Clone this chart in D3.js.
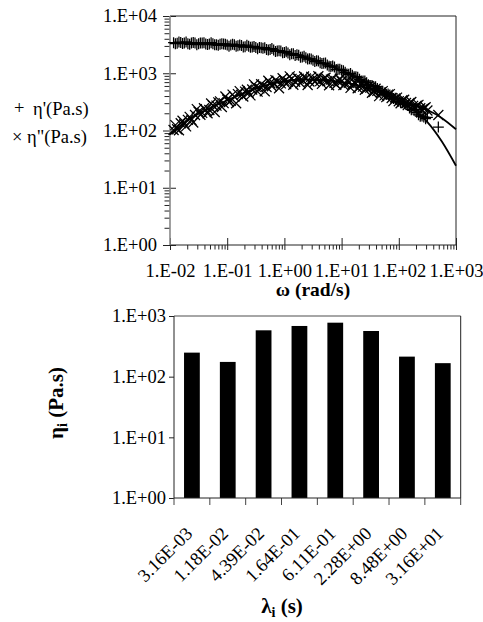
<!DOCTYPE html>
<html>
<head>
<meta charset="utf-8">
<script src="https://cdn.jsdelivr.net/npm/d3@7"></script>
<style>
  html, body { margin: 0; padding: 0; background: #fff; }
  svg { display: block; }
  svg text { font-family: "Liberation Serif", "Times New Roman", Times, "DejaVu Serif", serif; }
</style>
</head>
<body>
<svg id="fig" width="483" height="622"></svg>
<script>
// ---- Dynamic moduli: frequency sweep, run A ----
const omegaA = [0.01155, 0.01334, 0.0154, 0.01778, 0.02054, 0.02371, 0.02738, 0.03162,
  0.03652, 0.04217, 0.0487, 0.05623, 0.06494, 0.07499, 0.0866, 0.1,
  0.1155, 0.1334, 0.154, 0.1778, 0.2054, 0.2371, 0.2738, 0.3162,
  0.3652, 0.4217, 0.487, 0.5623, 0.6494, 0.7499, 0.866, 1,
  1.155, 1.334, 1.54, 1.778, 2.054, 2.371, 2.738, 3.162,
  3.652, 4.217, 4.87, 5.623, 6.494, 7.499, 8.66, 10,
  11.55, 13.34, 15.4, 17.78, 20.54, 23.71, 27.38, 31.62,
  36.52, 42.17, 48.7, 56.23, 64.94, 74.99, 86.6, 100,
  115.5, 133.4, 154, 177.8, 205.4, 237.1, 273.8, 316.2, 491];
const etaPrimeA = [3420, 3350, 3440, 3370, 3290, 3370, 3360, 3280,
  3360, 3240, 3250, 3270, 3150, 3220, 3230, 3110,
  3110, 3140, 3010, 3040, 2910, 2950, 2880, 2810,
  2830, 2740, 2600, 2600, 2560, 2440, 2440, 2310,
  2250, 2190, 2050, 2060, 1920, 1860, 1800, 1690,
  1660, 1520, 1490, 1400, 1310, 1280, 1170, 1130,
  1040, 958, 924, 873, 783, 732, 683, 613,
  583, 543, 486, 453, 432, 384, 365, 324,
  306, 285, 248, 234, 208, 178, 172, 170, 115];
const etaDoublePrimeA = [102, 105, 134, 130, 153, 153, 187, 213,
  203, 229, 228, 273, 272, 323, 301, 348,
  331, 390, 431, 420, 477, 456, 519, 582,
  545, 610, 574, 676, 656, 722, 666, 736,
  711, 797, 712, 800, 755, 809, 717, 795,
  774, 730, 801, 728, 774, 680, 725, 726,
  646, 682, 632, 665, 579, 585, 539, 560,
  474, 492, 460, 410, 423, 370, 364, 324,
  337, 303, 303, 269, 271, 245, 242, 223, 187];

// ---- Dynamic moduli: frequency sweep, run B ----
const omegaB = [0.01241, 0.01433, 0.01655, 0.01911, 0.02207, 0.02548, 0.02942, 0.03398,
  0.03924, 0.04532, 0.05233, 0.06043, 0.06979, 0.08058, 0.09306, 0.1075,
  0.1241, 0.1433, 0.1655, 0.1911, 0.2207, 0.2548, 0.2942, 0.3398,
  0.3924, 0.4532, 0.5233, 0.6043, 0.6979, 0.8058, 0.9306, 1.075,
  1.241, 1.433, 1.655, 1.911, 2.207, 2.548, 2.942, 3.398,
  3.924, 4.532, 5.233, 6.043, 6.979, 8.058, 9.306, 10.75,
  12.41, 14.33, 16.55, 19.11, 22.07, 25.48, 29.42, 33.98,
  39.24, 45.32, 52.33, 60.43, 69.79, 80.58, 93.06, 107.5,
  124.1, 143.3, 165.5, 191.1, 220.7, 254.8, 294.2];
const etaPrimeB = [3280, 3510, 3300, 3530, 3210, 3430, 3150, 3370,
  3410, 3170, 3410, 3160, 3070, 3270, 3220, 2970,
  3220, 2970, 3120, 2870, 3090, 2840, 2940, 2670,
  2800, 2790, 2550, 2700, 2400, 2480, 2290, 2380,
  2100, 2200, 2100, 1900, 1990, 1770, 1780, 1600,
  1640, 1480, 1510, 1330, 1340, 1160, 1170, 1110,
  971, 993, 867, 849, 732, 732, 631, 613,
  583, 492, 486, 427, 419, 362, 362, 304,
  296, 273, 231, 227, 188, 179, 161];
const etaDoublePrimeB = [124, 101, 148, 118, 173, 138, 236, 188,
  245, 200, 297, 210, 310, 257, 392, 314,
  423, 300, 487, 392, 514, 410, 640, 478,
  644, 484, 738, 594, 759, 546, 818, 647,
  880, 631, 840, 670, 878, 624, 864, 707,
  886, 652, 836, 617, 796, 631, 803, 620,
  751, 555, 687, 548, 668, 516, 599, 457,
  535, 399, 487, 382, 432, 326, 375, 299,
  345, 277, 315, 254, 280, 231, 255];

// ---- Multi-mode Maxwell fit curves ----
const fitOmega = [0.01, 0.01778, 0.03162, 0.05623, 0.1, 0.1778, 0.3162, 0.5623,
  1, 1.778, 3.162, 5.623, 10, 17.78, 31.62, 56.23, 100, 177.8, 316.2, 562.3, 1000];
const fitEtaPrime = [3396, 3367, 3312, 3236, 3141, 3013, 2836, 2602,
  2330, 2022, 1709, 1405, 1116, 856, 625, 453, 331, 232, 140, 64.8, 24.2];
const fitEtaDoublePrime = [85.1, 137, 197, 260, 338, 433, 544, 644,
  721, 770, 772, 750, 698, 628, 534, 427, 341, 280, 228, 166, 105];

// ---- Relaxation spectrum ----
const lambdaLabels = ["3.16E-03", "1.18E-02", "4.39E-02", "1.64E-01",
  "6.11E-01", "2.28E+00", "8.48E+00", "3.16E+01"];
const etaModes = [249, 175, 581, 685, 776, 566, 214, 167];

// ---- Tick values and labels ----
const topXTicks = [0.01, 0.1, 1, 10, 100, 1000];
const topXLabels = ["1.E-02", "1.E-01", "1.E+00", "1.E+01", "1.E+02", "1.E+03"];
const topYTicks = [1, 10, 100, 1000, 10000];
const topYLabels = ["1.E+00", "1.E+01", "1.E+02", "1.E+03", "1.E+04"];
const barYTicks = [1, 10, 100, 1000];
const barYLabels = ["1.E+00", "1.E+01", "1.E+02", "1.E+03"];

const FONT = '"Liberation Serif", "Times New Roman", Times, "DejaVu Serif", serif';
const FS = 18.5;
const TITLE_FS = 19.5;
const svg = d3.select("#fig");

const isMajor = v => Math.abs(Math.log10(v) - Math.round(Math.log10(v))) < 1e-6;
const styleText = g => g.attr("font-family", null).attr("font-size", null)
  .style("font-family", FONT).style("font-size", FS + "px");

// =================== Upper panel: η', η'' vs ω ===================
const T = { l: 170, r: 456, t: 16, b: 245 };
const x = d3.scaleLog().domain([0.01, 1000]).range([T.l, T.r]);
const y = d3.scaleLog().domain([1, 10000]).range([T.b, T.t]);

const upper = svg.append("g");

// minor ticks (outside)
upper.append("g").attr("transform", `translate(0,${T.b})`)
  .call(d3.axisBottom(x).tickValues(x.ticks().filter(v => !isMajor(v))).tickSize(4.5).tickFormat(""))
  .call(g => g.select(".domain").remove());
upper.append("g").attr("transform", `translate(${T.l},0)`)
  .call(d3.axisLeft(y).tickValues(y.ticks().filter(v => !isMajor(v))).tickSize(5.5).tickFormat(""))
  .call(g => g.select(".domain").remove());
// major ticks, inner halves
upper.append("g").attr("transform", `translate(0,${T.b})`)
  .call(d3.axisBottom(x).tickValues(topXTicks).tickSize(-7).tickFormat(""))
  .call(g => g.select(".domain").remove());
upper.append("g").attr("transform", `translate(${T.l},0)`)
  .call(d3.axisLeft(y).tickValues(topYTicks).tickSize(-6).tickFormat(""))
  .call(g => g.select(".domain").remove());
// major ticks with labels
upper.append("g").attr("transform", `translate(0,${T.b})`)
  .call(d3.axisBottom(x).tickValues(topXTicks).tickSize(5).tickPadding(14)
    .tickFormat((d, i) => topXLabels[i]))
  .call(g => g.select(".domain").remove())
  .call(styleText);
upper.append("g").attr("transform", `translate(${T.l},0)`)
  .call(d3.axisLeft(y).tickValues(topYTicks).tickSize(7).tickPadding(6)
    .tickFormat((d, i) => topYLabels[i]))
  .call(g => g.select(".domain").remove())
  .call(styleText);
upper.selectAll(".tick line").attr("stroke", "#222");

// frame
upper.append("line").attr("x1", T.l).attr("x2", T.r).attr("y1", T.t).attr("y2", T.t).attr("stroke", "#222");
upper.append("line").attr("x1", T.r).attr("x2", T.r).attr("y1", T.t).attr("y2", T.b).attr("stroke", "#222");
upper.append("line").attr("x1", T.l).attr("x2", T.r).attr("y1", T.b).attr("y2", T.b).attr("stroke", "#222");
upper.append("line").attr("x1", T.l).attr("x2", T.l).attr("y1", T.t).attr("y2", T.b)
  .attr("stroke", "#888").attr("stroke-width", 1.6);

// measured points
const plusPath = r => `M${-r},0H${r}M0,${-r}V${r}`;
const crossPath = r => `M${-r},${-r}L${r},${r}M${-r},${r}L${r},${-r}`;
const ptsA = omegaA.map((w, i) => ({ w, e1: etaPrimeA[i], e2: etaDoublePrimeA[i] }));
const ptsB = omegaB.map((w, i) => ({ w, e1: etaPrimeB[i], e2: etaDoublePrimeB[i] }));
const pts = ptsA.concat(ptsB);

upper.append("g").selectAll("path").data(pts).join("path")
  .attr("transform", d => `translate(${x(d.w)},${y(d.e2)})`)
  .attr("d", crossPath(5)).attr("fill", "none").attr("stroke", "#000").attr("stroke-width", 1.25);
upper.append("g").selectAll("path").data(pts).join("path")
  .attr("transform", d => `translate(${x(d.w)},${y(d.e1)})`)
  .attr("d", plusPath(5.5)).attr("fill", "none").attr("stroke", "#000").attr("stroke-width", 1.25);

// fit curves
const fit1 = fitOmega.map((w, i) => [w, fitEtaPrime[i]]);
const fit2 = fitOmega.map((w, i) => [w, fitEtaDoublePrime[i]]);
const line = d3.line().x(d => x(d[0])).y(d => y(d[1])).curve(d3.curveMonotoneX);
[fit1, fit2].forEach(f => upper.append("path").attr("d", line(f))
  .attr("fill", "none").attr("stroke", "#000").attr("stroke-width", 1.8));

// legend
const leg = svg.append("g").style("font-family", FONT).style("font-size", FS + "px");
leg.append("text").attr("x", 14).attr("y", 114).text("+");
leg.append("text").attr("x", 33).attr("y", 115).text("η'(Pa.s)");
leg.append("text").attr("x", 12).attr("y", 143).text("×");
leg.append("text").attr("x", 27).attr("y", 143).text("η\"(Pa.s)");

// x title
svg.append("text").attr("x", (T.l + T.r) / 2).attr("y", 296).attr("text-anchor", "middle")
  .style("font-family", FONT).style("font-size", TITLE_FS + "px").attr("font-weight", "bold").text("ω (rad/s)");

// =================== Lower panel: relaxation spectrum ===================
const B = { l: 174, r: 460.7, t: 316, b: 498 };
const xb = d3.scaleBand().domain(lambdaLabels).range([B.l, B.r]).paddingInner(0.56).paddingOuter(0.28);
const yb = d3.scaleLog().domain([1, 1000]).range([B.b, B.t]);

const lower = svg.append("g");
lower.append("g").selectAll("rect").data(lambdaLabels).join("rect")
  .attr("x", d => xb(d)).attr("width", xb.bandwidth())
  .attr("y", (d, i) => yb(etaModes[i])).attr("height", (d, i) => B.b - yb(etaModes[i]))
  .attr("fill", "#000");

const gyBot = lower.append("g").attr("transform", `translate(${B.l},0)`)
  .call(d3.axisLeft(yb).tickValues(barYTicks).tickSize(5).tickPadding(3)
    .tickFormat((d, i) => barYLabels[i]))
  .call(g => g.select(".domain").remove())
  .call(styleText);
gyBot.selectAll(".tick line").attr("stroke", "#222");

// category boundary ticks
const gap = (xb.step() - xb.bandwidth()) / 2;
const bounds = lambdaLabels.map(d => xb(d) - gap).concat([B.r]);
lower.append("g").selectAll("line").data(bounds).join("line")
  .attr("x1", d => d).attr("x2", d => d).attr("y1", B.b).attr("y2", B.b + 7)
  .attr("stroke", "#444");

// frame
lower.append("line").attr("x1", B.l).attr("x2", B.r).attr("y1", B.t).attr("y2", B.t).attr("stroke", "#888").attr("stroke-width", 1.4);
lower.append("line").attr("x1", B.r).attr("x2", B.r).attr("y1", B.t).attr("y2", B.b).attr("stroke", "#222");
lower.append("line").attr("x1", B.l).attr("x2", B.r).attr("y1", B.b).attr("y2", B.b).attr("stroke", "#222");
lower.append("line").attr("x1", B.l).attr("x2", B.l).attr("y1", B.t).attr("y2", B.b).attr("stroke", "#222");

// rotated category labels
lower.append("g").style("font-family", FONT).style("font-size", FS + "px")
  .selectAll("text").data(lambdaLabels).join("text")
  .attr("text-anchor", "end")
  .attr("transform", d => `translate(${xb(d) + xb.bandwidth() / 2 - 3},${530}) rotate(-45)`)
  .attr("dy", "0.35em")
  .text(d => d);

// axis titles
const xt = svg.append("text").attr("x", 282).attr("y", 613).attr("text-anchor", "middle")
  .style("font-family", FONT).style("font-size", "21px").attr("font-weight", "bold");
xt.append("tspan").text("λ");
xt.append("tspan").style("font-size", "14px").attr("dy", 4).text("i");
xt.append("tspan").attr("dy", -4).text(" (s)");

const yt = svg.append("text").attr("transform", `translate(63,403) rotate(-90)`).attr("text-anchor", "middle")
  .style("font-family", FONT).style("font-size", "21px").attr("font-weight", "bold");
yt.append("tspan").text("η");
yt.append("tspan").style("font-size", "14px").attr("dy", 4).text("i");
yt.append("tspan").attr("dy", -4).text(" (Pa.s)");
</script>
</body>
</html>
